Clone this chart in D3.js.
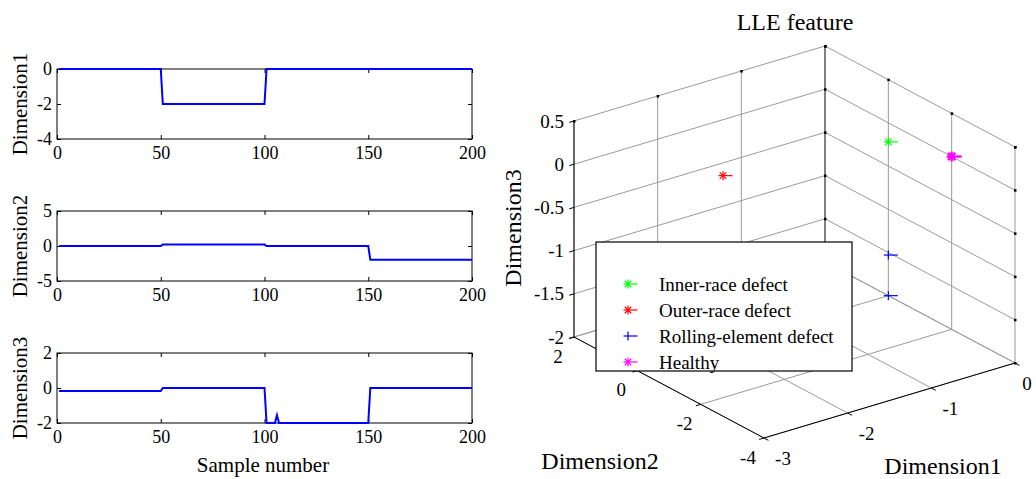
<!DOCTYPE html>
<html>
<head>
<meta charset="utf-8">
<script src="https://cdn.jsdelivr.net/npm/d3@7"></script>
<style>
  body { margin: 0; background: #fff; }
  text { font-family: "Liberation Serif", "Times New Roman", serif; fill: #000; }
</style>
</head>
<body>
<div id="chart"></div>
<script>
// ---- data ----
const sampleTicks = [0, 50, 100, 150, 200];

// line vertices (sample number, value) of the three LLE dimensions
const dim1Samples = [1, 50, 51, 100, 101, 200];
const dim1Values  = [0, 0, -2, -2, 0, 0];
const dim2Samples = [1, 50, 51, 100, 101, 150, 151, 200];
const dim2Values  = [0, 0, 0.2, 0.2, 0, 0, -1.95, -1.95];
const dim3Samples = [1, 50, 51, 100, 101, 105, 106, 107, 150, 151, 200];
const dim3Values  = [-0.17, -0.17, 0, 0, -2, -2, -1.55, -2, -2, 0, 0];

const dim1Ticks = [-3, -2, -1, 0];
const dim2Ticks = [-4, -2, 0, 2];
const dim3Ticks = [-2, -1.5, -1, -0.5, 0, 0.5];

const classNames   = ["Inner-race defect", "Outer-race defect", "Rolling-element defect", "Healthy"];
const classColors  = ["#00ff00", "#ff0000", "#0000ff", "#ff00ff"];
const classMarkers = ["*", "*", "+", "*"];
// [dimension1, dimension2, dimension3] cluster positions
const classPoints  = [
  [[0, 0, -0.22]],
  [[-1.9, 0.2, -0.1]],
  [[0, 0, -2], [0, 0, -1.53]],
  [[0, -2, 0]]
];

// ---- layout ----
const W = 1036, H = 479;
const svg = d3.select("#chart").append("svg")
  .attr("width", W).attr("height", H);

const fmt = d => String(d);

// ---------- left: three 2-D panels ----------
const panels = [
  { label: "Dimension1", samples: dim1Samples, values: dim1Values, domain: [-4, 0], ticks: [-4, -2, 0], top: 69, bottom: 139 },
  { label: "Dimension2", samples: dim2Samples, values: dim2Values, domain: [-5, 5], ticks: [-5, 0, 5], top: 211, bottom: 281 },
  { label: "Dimension3", samples: dim3Samples, values: dim3Values, domain: [-2, 2], ticks: [-2, 0, 2], top: 353, bottom: 423 }
];

const x = d3.scaleLinear().domain([0, 200]).range([57, 472]);

function styleAxis(g) {
  g.attr("font-family", "Liberation Serif").attr("font-size", 18);
  g.select(".domain").remove();
  g.selectAll(".tick line").attr("stroke", "#000");
  g.selectAll(".tick text").attr("fill", "#000");
}

panels.forEach(p => {
  const y = d3.scaleLinear().domain(p.domain).range([p.bottom, p.top]);
  const g = svg.append("g");

  g.append("rect")
    .attr("x", x(0)).attr("y", p.top)
    .attr("width", x(200) - x(0)).attr("height", p.bottom - p.top)
    .attr("fill", "none").attr("stroke", "#000");

  g.append("g").attr("transform", "translate(0," + p.bottom + ")")
    .call(d3.axisBottom(x).tickValues(sampleTicks).tickFormat(fmt).tickSizeInner(-4).tickSizeOuter(0).tickPadding(7))
    .call(styleAxis);
  g.append("g").attr("transform", "translate(0," + p.top + ")")
    .call(d3.axisTop(x).tickValues(sampleTicks).tickSizeInner(-4).tickSizeOuter(0).tickFormat(""))
    .call(styleAxis);
  g.append("g").attr("transform", "translate(" + x(0) + ",0)")
    .call(d3.axisLeft(y).tickValues(p.ticks).tickFormat(fmt).tickSizeInner(-4).tickSizeOuter(0).tickPadding(5))
    .call(styleAxis);
  g.append("g").attr("transform", "translate(" + x(200) + ",0)")
    .call(d3.axisRight(y).tickValues(p.ticks).tickSizeInner(-4).tickSizeOuter(0).tickFormat(""))
    .call(styleAxis);

  const pts = p.samples.map((s, i) => [s, p.values[i]]);
  g.append("path")
    .datum(pts)
    .attr("fill", "none")
    .attr("stroke", "#0000ff")
    .attr("stroke-width", 2)
    .attr("d", d3.line().x(d => x(d[0])).y(d => y(d[1])));

  g.append("text")
    .attr("transform", "translate(27," + ((p.top + p.bottom) / 2) + ") rotate(-90)")
    .style("text-anchor", "middle")
    .style("font-size", "21px")
    .text(p.label);
});

svg.append("text")
  .attr("x", 263).attr("y", 472)
  .style("text-anchor", "middle")
  .style("font-size", "21px")
  .text("Sample number");

// ---------- right: 3-D scatter ----------
const sx = d3.scaleLinear().domain([-3, 0]).range([0, 1]);
const sy = d3.scaleLinear().domain([-4, 2]).range([0, 1]);
const sz = d3.scaleLinear().domain([-2, 0.5]).range([0, 1]);
const O = [764, 438], XV = [251, -75], YV = [-190, -101], ZV = [0, -216];

function proj(a, b, c) {
  const u = sx(a), v = sy(b), w = sz(c);
  return [O[0] + u * XV[0] + v * YV[0] + w * ZV[0],
          O[1] + u * XV[1] + v * YV[1] + w * ZV[1]];
}

const g3 = svg.append("g");
const grid = [];
const x0 = -3, x1 = 0, y0 = -4, y1 = 2, z0 = -2, z1 = 0.5;
// floor
dim1Ticks.forEach(t => grid.push([[t, y0, z0], [t, y1, z0]]));
dim2Ticks.forEach(t => grid.push([[x0, t, z0], [x1, t, z0]]));
// back wall at dimension2 = 2
dim1Ticks.forEach(t => grid.push([[t, y1, z0], [t, y1, z1]]));
dim3Ticks.forEach(t => grid.push([[x0, y1, t], [x1, y1, t]]));
// back wall at dimension1 = 0
dim2Ticks.forEach(t => grid.push([[x1, t, z0], [x1, t, z1]]));
dim3Ticks.forEach(t => grid.push([[x1, y0, t], [x1, y1, t]]));

g3.selectAll("line.grid").data(grid).enter().append("line")
  .attr("class", "grid")
  .attr("x1", d => proj(...d[0])[0]).attr("y1", d => proj(...d[0])[1])
  .attr("x2", d => proj(...d[1])[0]).attr("y2", d => proj(...d[1])[1])
  .attr("stroke", "#9a9a9a").attr("stroke-width", 1);

// back corner edge looks heavier
g3.append("line")
  .attr("x1", proj(x1, y1, z0)[0]).attr("y1", proj(x1, y1, z0)[1])
  .attr("x2", proj(x1, y1, z1)[0]).attr("y2", proj(x1, y1, z1)[1])
  .attr("stroke", "#808080").attr("stroke-width", 2);

// axis lines
const axes = [
  [[x0, y0, z0], [x1, y0, z0]],
  [[x0, y0, z0], [x0, y1, z0]],
  [[x0, y1, z0], [x0, y1, z1]]
];
g3.selectAll("line.axis").data(axes).enter().append("line")
  .attr("class", "axis")
  .attr("x1", d => proj(...d[0])[0]).attr("y1", d => proj(...d[0])[1])
  .attr("x2", d => proj(...d[1])[0]).attr("y2", d => proj(...d[1])[1])
  .attr("stroke", "#000").attr("stroke-width", 1);

function unit(v) { const l = Math.hypot(v[0], v[1]); return [v[0] / l, v[1] / l]; }
const outX = unit([-XV[0], -XV[1]]);
const outY = unit([-YV[0], -YV[1]]);
const tl = 5;

// tick marks on the axes
dim3Ticks.forEach(t => {
  const p = proj(x0, y1, t);
  g3.append("line").attr("x1", p[0]).attr("y1", p[1])
    .attr("x2", p[0] + outX[0] * tl).attr("y2", p[1] + outX[1] * tl).attr("stroke", "#000");
  g3.append("text").attr("x", p[0] - 10).attr("y", p[1])
    .attr("dy", "0.35em").style("text-anchor", "end").style("font-size", "19px")
    .text(fmt(t));
});
dim2Ticks.forEach(t => {
  const p = proj(x0, t, z0);
  g3.append("line").attr("x1", p[0]).attr("y1", p[1])
    .attr("x2", p[0] + outX[0] * tl).attr("y2", p[1] + outX[1] * tl).attr("stroke", "#000");
  g3.append("text").attr("x", p[0] - 16).attr("y", p[1] + 19)
    .attr("dy", "0.35em").style("text-anchor", "middle").style("font-size", "19px")
    .text(fmt(t));
});
dim1Ticks.forEach(t => {
  const p = proj(t, y0, z0);
  g3.append("line").attr("x1", p[0]).attr("y1", p[1])
    .attr("x2", p[0] + outY[0] * tl).attr("y2", p[1] + outY[1] * tl).attr("stroke", "#000");
  g3.append("text").attr("x", Math.min(p[0] + 19, 1027)).attr("y", p[1] + 20)
    .attr("dy", "0.35em").style("text-anchor", "middle").style("font-size", "19px")
    .text(fmt(t));
});

// small tick dots on the far box edges
const dots = [];
dim1Ticks.forEach(t => dots.push([t, y1, z1]));
dim2Ticks.forEach(t => dots.push([x1, t, z1]));
dim3Ticks.forEach(t => { dots.push([x1, y1, t]); dots.push([x1, y0, t]); });
g3.selectAll("rect.dot").data(dots).enter().append("rect")
  .attr("class", "dot")
  .attr("x", d => proj(...d)[0] - 1).attr("y", d => proj(...d)[1] - 1)
  .attr("width", 2.5).attr("height", 2.5).attr("fill", "#000");

function marker(g, cx, cy, type, color, sw, r) {
  const d = r * 0.72;
  const segs = [[-r, 0, r + 5, 0], [0, -r, 0, r]];
  if (type === "*") { segs.push([-d, -d, d, d]); segs.push([-d, d, d, -d]); }
  segs.forEach(s => g.append("line")
    .attr("x1", cx + s[0]).attr("y1", cy + s[1])
    .attr("x2", cx + s[2]).attr("y2", cy + s[3])
    .attr("stroke", color).attr("stroke-width", sw));
}

classPoints.forEach((pts, i) => {
  pts.forEach(pt => {
    const p = proj(...pt);
    if (i === 3) marker(g3, p[0], p[1], classMarkers[i], classColors[i], 2.4, 5);
    else marker(g3, p[0], p[1], classMarkers[i], classColors[i], 1.2, 4.5);
  });
});

// title and labels
svg.append("text").attr("x", 795).attr("y", 30)
  .style("text-anchor", "middle").style("font-size", "24px").text("LLE feature");
svg.append("text").attr("x", 600).attr("y", 469)
  .style("text-anchor", "middle").style("font-size", "24px").text("Dimension2");
svg.append("text").attr("x", 943).attr("y", 474)
  .style("text-anchor", "middle").style("font-size", "24px").text("Dimension1");
svg.append("text")
  .attr("transform", "translate(521,228) rotate(-90)")
  .style("text-anchor", "middle").style("font-size", "24px").text("Dimension3");

// legend
const lg = svg.append("g");
lg.append("rect").attr("x", 596).attr("y", 242).attr("width", 256).attr("height", 129)
  .attr("fill", "#fff").attr("stroke", "#000").attr("stroke-width", 1.2);
classNames.forEach((name, i) => {
  const cy = 284 + i * 26;
  marker(lg, 628, cy, classMarkers[i], classColors[i], 1.2, 4.5);
  lg.append("text").attr("x", 659).attr("y", cy).attr("dy", "0.35em")
    .style("font-size", "19px").text(name);
});
</script>
</body>
</html>
